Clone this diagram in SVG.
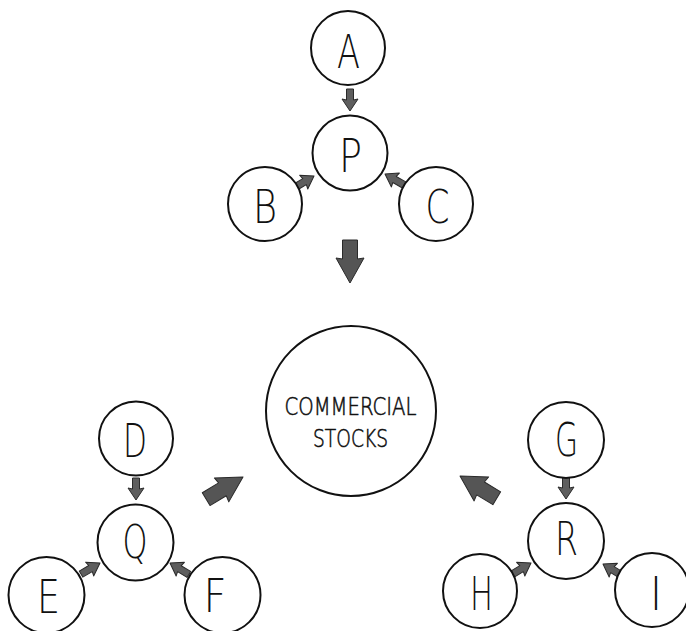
<svg xmlns="http://www.w3.org/2000/svg" width="686" height="631" viewBox="0 0 686 631">
<defs>
<style>
.n circle{fill:#fff;stroke:#111;stroke-width:2}
.n text{font-family:"DejaVu Sans","Liberation Sans",Arial,sans-serif;font-weight:200;font-size:46px;fill:#111;text-anchor:middle}
.n text.lbl{font-size:24.5px;stroke:#111;stroke-width:0.6}
.sa{fill:#5e5e5e;stroke:#2a2a2a;stroke-width:1;stroke-linejoin:round}
.ba{fill:#555;stroke:#2a2a2a;stroke-width:1;stroke-linejoin:round}
</style>
<path id="small" d="M0,0 L-12,-8 L-11,-3.5 L-22,-3.5 L-22,3.5 L-11,3.5 L-12,8 Z"/>
<path id="big" d="M0,0 L-25,-14 L-24,-7.5 L-43,-7.5 L-43,7.5 L-24,7.5 L-25,14 Z"/>
</defs>
<rect width="686" height="631" fill="#fff"/>

<g id="connectors">
<use href="#small" class="sa" transform="translate(350,111) rotate(90)"/>
<use href="#small" class="sa" transform="translate(314,176) rotate(-30.8)"/>
<use href="#small" class="sa" transform="translate(385,174) rotate(-150.1)"/>
<use href="#small" class="sa" transform="translate(136,500) rotate(90)"/>
<use href="#small" class="sa" transform="translate(100,563) rotate(-30.3)"/>
<use href="#small" class="sa" transform="translate(170,563) rotate(-148.8)"/>
<use href="#small" class="sa" transform="translate(566,499) rotate(90)"/>
<use href="#small" class="sa" transform="translate(531,563) rotate(-31)"/>
<use href="#small" class="sa" transform="translate(603,564) rotate(-149)"/>
<use href="#big" class="ba" transform="translate(350,283) rotate(90)"/>
<use href="#big" class="ba" transform="translate(243,477) rotate(-31)"/>
<use href="#big" class="ba" transform="translate(460,476) rotate(-148.8)"/>
</g>

<g id="node-A" class="n"><circle cx="348" cy="48" r="37"/><text x="348.5" y="68" textLength="23" lengthAdjust="spacingAndGlyphs">A</text></g>
<g id="node-P" class="n"><circle cx="350" cy="153" r="37.5"/><text x="350.5" y="172" textLength="23" lengthAdjust="spacingAndGlyphs">P</text></g>
<g id="node-B" class="n"><circle cx="265" cy="204" r="37"/><text x="265" y="223" textLength="24" lengthAdjust="spacingAndGlyphs">B</text></g>
<g id="node-C" class="n"><circle cx="436" cy="204" r="37"/><text x="437.5" y="223" textLength="24" lengthAdjust="spacingAndGlyphs">C</text></g>

<g id="node-commercial-stocks" class="n"><circle cx="351" cy="411" r="85"/>
<text class="lbl" x="350.5" y="415" textLength="132" lengthAdjust="spacingAndGlyphs">COMMERCIAL</text>
<text class="lbl" x="350.5" y="447" textLength="75" lengthAdjust="spacingAndGlyphs">STOCKS</text></g>

<g id="node-D" class="n"><circle cx="136" cy="438.5" r="37"/><text x="135" y="457" textLength="24" lengthAdjust="spacingAndGlyphs">D</text></g>
<g id="node-Q" class="n"><circle cx="135.5" cy="542.5" r="38"/><text x="135" y="558" textLength="25" lengthAdjust="spacingAndGlyphs">Q</text></g>
<g id="node-E" class="n"><circle cx="46.5" cy="595" r="38"/><text x="48.5" y="613" textLength="23" lengthAdjust="spacingAndGlyphs">E</text></g>
<g id="node-F" class="n"><circle cx="222.5" cy="595" r="38"/><text x="215" y="612" textLength="23" lengthAdjust="spacingAndGlyphs">F</text></g>

<g id="node-G" class="n"><circle cx="566" cy="440" r="38"/><text x="566.5" y="456" textLength="23" lengthAdjust="spacingAndGlyphs">G</text></g>
<g id="node-R" class="n"><circle cx="566" cy="541" r="38"/><text x="566.5" y="555" textLength="23" lengthAdjust="spacingAndGlyphs">R</text></g>
<g id="node-H" class="n"><circle cx="480" cy="591" r="37"/><text x="481.5" y="610" textLength="23" lengthAdjust="spacingAndGlyphs">H</text></g>
<g id="node-I" class="n"><circle cx="652" cy="590" r="37"/><text x="656" y="610" textLength="12" lengthAdjust="spacingAndGlyphs">I</text></g>
</svg>
